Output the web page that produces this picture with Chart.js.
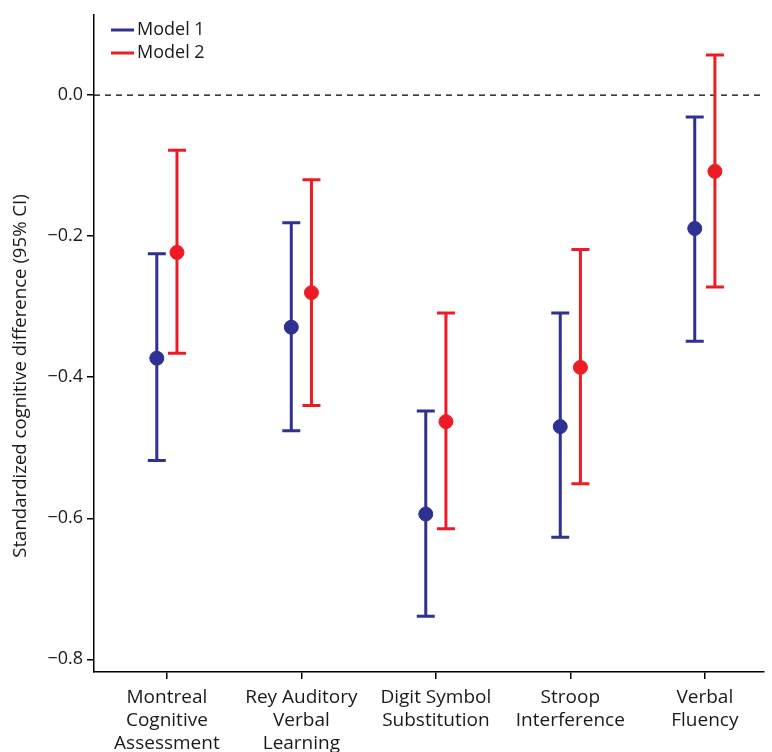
<!DOCTYPE html>
<html>
<head>
<meta charset="utf-8">
<script src="https://cdn.jsdelivr.net/npm/chart.js@4.4.1/dist/chart.umd.min.js"></script>
<style>
  html, body { margin: 0; padding: 0; background: #fff; }
  #wrap { width: 772px; height: 752px; }
</style>
</head>
<body>
<div id="wrap"><canvas id="chart" width="772" height="752"></canvas></div>
<script>
// Data
const categories = [
  ["Montreal", "Cognitive", "Assessment"],
  ["Rey Auditory", "Verbal", "Learning"],
  ["Digit Symbol", "Substitution"],
  ["Stroop", "Interference"],
  ["Verbal", "Fluency"],
];
const model1Est = [-0.373, -0.329, -0.594, -0.47, -0.189];
const model1Lo = [-0.518, -0.476, -0.739, -0.627, -0.349];
const model1Hi = [-0.225, -0.181, -0.448, -0.309, -0.031];
const model2Est = [-0.223, -0.28, -0.463, -0.386, -0.108];
const model2Lo = [-0.366, -0.44, -0.615, -0.551, -0.272];
const model2Hi = [-0.078, -0.12, -0.309, -0.219, 0.057];
const yTicks = [0, -0.2, -0.4, -0.6, -0.8];

const blue = "#2e3192";
const red = "#ed1c24";
const font = "'Open Sans', 'Noto Sans', sans-serif";

function points(est, lo, hi, shift) {
  return est.map((v, i) => ({ x: i + 1 + shift, y: v, lo: lo[i], hi: hi[i] }));
}

// Error bars under the points
const errorBars = {
  id: "errorBars",
  beforeDatasetsDraw(chart) {
    const ctx = chart.ctx;
    const xs = chart.scales.x;
    const ys = chart.scales.y;
    chart.data.datasets.forEach((ds) => {
      ctx.save();
      ctx.strokeStyle = ds.borderColor;
      ctx.lineWidth = 3;
      ds.data.forEach((p) => {
        const x = xs.getPixelForValue(p.x);
        const top = ys.getPixelForValue(p.hi);
        const bot = ys.getPixelForValue(p.lo);
        ctx.beginPath();
        ctx.moveTo(x, top);
        ctx.lineTo(x, bot);
        ctx.moveTo(x - 9, top);
        ctx.lineTo(x + 9, top);
        ctx.moveTo(x - 9, bot);
        ctx.lineTo(x + 9, bot);
        ctx.stroke();
      });
      ctx.restore();
    });
  },
};

// Dashed zero line, legend and y axis title
const extras = {
  id: "extras",
  beforeDraw(chart) {
    const ctx = chart.ctx;
    const area = chart.chartArea;
    const y0 = chart.scales.y.getPixelForValue(0);
    ctx.save();
    ctx.strokeStyle = "#000";
    ctx.lineWidth = 1.2;
    ctx.setLineDash([6, 5]);
    ctx.beginPath();
    ctx.moveTo(area.left, y0);
    ctx.lineTo(area.right, y0);
    ctx.stroke();
    ctx.restore();

    ctx.save();
    ctx.translate(21, 376);
    ctx.rotate(-Math.PI / 2);
    ctx.fillStyle = "#1a1a1a";
    ctx.font = "18.6px " + font;
    ctx.textAlign = "center";
    ctx.textBaseline = "middle";
    ctx.fillText("Standardized cognitive difference (95% CI)", 0, 0);
    ctx.restore();

    // legend
    ctx.save();
    ctx.font = "18px " + font;
    ctx.textBaseline = "middle";
    ctx.fillStyle = "#1a1a1a";
    chart.data.datasets.forEach((ds, i) => {
      const y = 30 + i * 23;
      ctx.strokeStyle = ds.borderColor;
      ctx.lineWidth = 3;
      ctx.beginPath();
      ctx.moveTo(111, y);
      ctx.lineTo(134, y);
      ctx.stroke();
      ctx.fillText(ds.label, 137, y);
    });
    ctx.restore();
  },
};

new Chart(document.getElementById("chart"), {
  type: "scatter",
  data: {
    datasets: [
      {
        label: "Model 1",
        data: points(model1Est, model1Lo, model1Hi, -0.075),
        backgroundColor: blue,
        borderColor: blue,
        pointRadius: 7,
        pointHoverRadius: 7,
      },
      {
        label: "Model 2",
        data: points(model2Est, model2Lo, model2Hi, 0.075),
        backgroundColor: red,
        borderColor: red,
        pointRadius: 7,
        pointHoverRadius: 7,
      },
    ],
  },
  options: {
    responsive: false,
    animation: false,
    layout: { padding: { top: 13, right: 0, left: 0, bottom: 0 } },
    plugins: {
      tooltip: { enabled: false },
      legend: { display: false },
    },
    scales: {
      x: {
        type: "linear",
        min: 0.458,
        max: 5.44,
        afterBuildTicks(scale) {
          scale.ticks = categories.map((c, i) => ({ value: i + 1 }));
        },
        afterFit(scale) {
          scale.height = 80;
        },
        ticks: {
          color: "#1a1a1a",
          font: { family: font, size: 19, lineHeight: 1.21 },
          padding: 7,
          maxRotation: 0,
          autoSkip: false,
          callback: (v) => categories[v - 1],
        },
        grid: { drawOnChartArea: false, drawTicks: true, tickLength: 7, color: "#000", lineWidth: 1.5 },
        border: { color: "#000", width: 1.5 },
      },
      y: {
        min: -0.818,
        max: 0.114,
        afterBuildTicks(scale) {
          scale.ticks = yTicks.map((v) => ({ value: v }));
        },
        afterFit(scale) {
          scale.width = 94;
        },
        ticks: {
          color: "#1a1a1a",
          font: { family: font, size: 18 },
          padding: 4,
          callback: (v) => (v === 0 ? "0.0" : "\u2212" + Math.abs(v).toFixed(1)),
        },
        grid: { drawOnChartArea: false, drawTicks: true, tickLength: 7, color: "#000", lineWidth: 1.5 },
        border: { color: "#000", width: 1.5 },
      },
    },
  },
  plugins: [errorBars, extras],
});
</script>
</body>
</html>
